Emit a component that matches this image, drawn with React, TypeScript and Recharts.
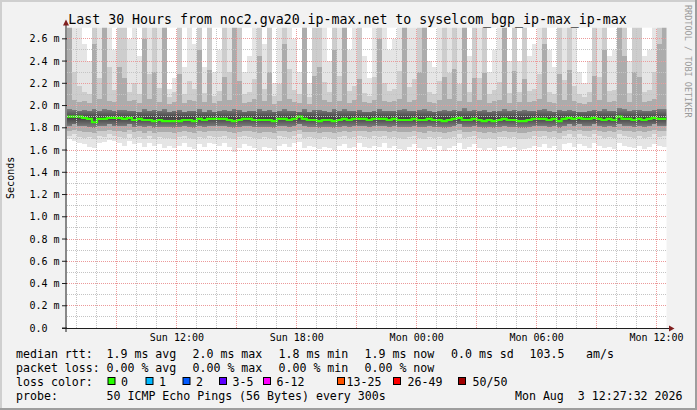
import React from 'react';
import { ComposedChart, Area, Line, XAxis, YAxis, ReferenceLine, CartesianGrid } from 'recharts';

const W = 697;
const H = 410;
const PLOT_LEFT = 67;
const PLOT_RIGHT = 666.5;
const PLOT_TOP = 27.7;
const PLOT_BOTTOM = 328;
const X_AXIS_H = 20;
const Y_AXIS_W = 60;
const MONO = "'DejaVu Sans Mono', monospace";

// time in hours since Sun 00:00, one bin every 15 minutes
const START_H = 6.5;
const STEP_H = 0.25;
const X_DOMAIN: [number, number] = [6.5, 36.5];
const Y_DOMAIN: [number, number] = [0, 2.7];

const X_TICKS = [12, 18, 24, 30, 36];
const X_LABELS = ['Sun 12:00', 'Sun 18:00', 'Mon 00:00', 'Mon 06:00', 'Mon 12:00'];
const Y_TICKS = [0, 0.2, 0.4, 0.6, 0.8, 1.0, 1.2, 1.4, 1.6, 1.8, 2.0, 2.2, 2.4, 2.6];
const Y_LABELS = ['0.0', '0.2 m', '0.4 m', '0.6 m', '0.8 m', '1.0 m', '1.2 m', '1.4 m', '1.6 m', '1.8 m', '2.0 m', '2.2 m', '2.4 m', '2.6 m'];
const MINOR_HOURS = [7, 8, 10, 11, 13, 14, 16, 17, 19, 20, 22, 23, 25, 26, 28, 29, 31, 32, 34, 35];
const MAJOR_HOURS = [9, 12, 15, 18, 21, 24, 27, 30, 33, 36];
const MINOR_Y = [0.1, 0.3, 0.5, 0.7, 0.9, 1.1, 1.3, 1.5, 1.7, 1.9, 2.1, 2.3, 2.5];
const MAJOR_Y = [0.2, 0.4, 0.6, 0.8, 1.0, 1.2, 1.4, 1.6, 1.8, 2.0, 2.2, 2.4, 2.6];

// smoke bands (ms): outermost pair LO/HI ... innermost pair LO4/HI3
const LO = [
  1.70, 1.68, 1.66, 1.65, 1.63, 1.62, 1.66, 1.67, 1.69, 1.68,
  1.66, 1.64, 1.68, 1.65, 1.66, 1.63, 1.66, 1.64, 1.65, 1.62,
  1.64, 1.62, 1.64, 1.66, 1.63, 1.61, 1.65, 1.63, 1.66, 1.65,
  1.64, 1.66, 1.63, 1.58, 1.62, 1.65, 1.64, 1.62, 1.60, 1.63,
  1.62, 1.59, 1.64, 1.65, 1.63, 1.66, 1.67, 1.62, 1.64, 1.63,
  1.61, 1.63, 1.62, 1.60, 1.64, 1.65, 1.62, 1.63, 1.66, 1.63,
  1.62, 1.64, 1.63, 1.66, 1.62, 1.64, 1.61, 1.60, 1.63, 1.65,
  1.62, 1.60, 1.63, 1.61, 1.64, 1.59, 1.62, 1.64, 1.66, 1.61,
  1.63, 1.65, 1.62, 1.60, 1.62, 1.60, 1.63, 1.64, 1.62, 1.63,
  1.60, 1.61, 1.62, 1.64, 1.63, 1.65, 1.62, 1.64, 1.60, 1.65,
  1.66, 1.63, 1.65, 1.64, 1.62, 1.66, 1.64, 1.62, 1.63, 1.61,
  1.66, 1.64, 1.63, 1.62, 1.64, 1.61, 1.63, 1.65, 1.64, 1.63,
];
const LO2 = [
  1.73, 1.74, 1.72, 1.71, 1.72, 1.70, 1.73, 1.72, 1.74, 1.73,
  1.72, 1.71, 1.74, 1.71, 1.72, 1.70, 1.73, 1.70, 1.72, 1.71,
  1.71, 1.70, 1.72, 1.73, 1.71, 1.70, 1.72, 1.71, 1.73, 1.72,
  1.72, 1.73, 1.71, 1.70, 1.72, 1.73, 1.72, 1.71, 1.70, 1.72,
  1.71, 1.70, 1.73, 1.72, 1.71, 1.73, 1.74, 1.71, 1.72, 1.71,
  1.70, 1.72, 1.71, 1.70, 1.72, 1.73, 1.71, 1.72, 1.73, 1.72,
  1.71, 1.73, 1.72, 1.73, 1.71, 1.72, 1.71, 1.70, 1.72, 1.73,
  1.71, 1.70, 1.72, 1.71, 1.72, 1.70, 1.71, 1.72, 1.74, 1.71,
  1.72, 1.73, 1.71, 1.70, 1.71, 1.70, 1.72, 1.72, 1.71, 1.72,
  1.70, 1.70, 1.71, 1.73, 1.72, 1.73, 1.71, 1.72, 1.70, 1.73,
  1.74, 1.72, 1.74, 1.73, 1.72, 1.74, 1.73, 1.71, 1.72, 1.71,
  1.74, 1.73, 1.72, 1.71, 1.73, 1.71, 1.72, 1.74, 1.72, 1.73,
];
const LO3 = [
  1.77, 1.78, 1.77, 1.76, 1.76, 1.75, 1.77, 1.77, 1.78, 1.77,
  1.77, 1.76, 1.78, 1.76, 1.77, 1.75, 1.77, 1.75, 1.76, 1.76,
  1.76, 1.75, 1.76, 1.77, 1.76, 1.75, 1.77, 1.76, 1.77, 1.77,
  1.77, 1.77, 1.76, 1.75, 1.76, 1.77, 1.77, 1.76, 1.75, 1.76,
  1.76, 1.75, 1.77, 1.77, 1.76, 1.77, 1.78, 1.76, 1.76, 1.76,
  1.75, 1.76, 1.76, 1.75, 1.76, 1.77, 1.76, 1.77, 1.77, 1.77,
  1.76, 1.77, 1.77, 1.77, 1.76, 1.77, 1.76, 1.76, 1.76, 1.77,
  1.76, 1.75, 1.77, 1.76, 1.76, 1.75, 1.76, 1.77, 1.78, 1.76,
  1.76, 1.77, 1.76, 1.75, 1.76, 1.75, 1.76, 1.77, 1.76, 1.76,
  1.75, 1.75, 1.76, 1.77, 1.77, 1.77, 1.76, 1.77, 1.75, 1.77,
  1.78, 1.77, 1.78, 1.77, 1.77, 1.78, 1.77, 1.76, 1.77, 1.76,
  1.78, 1.77, 1.77, 1.76, 1.77, 1.76, 1.77, 1.78, 1.77, 1.77,
];
const LO4 = [
  1.82, 1.83, 1.82, 1.82, 1.81, 1.80, 1.82, 1.82, 1.83, 1.82,
  1.82, 1.82, 1.83, 1.81, 1.82, 1.81, 1.82, 1.80, 1.81, 1.81,
  1.81, 1.80, 1.81, 1.82, 1.81, 1.80, 1.82, 1.81, 1.82, 1.82,
  1.82, 1.82, 1.81, 1.80, 1.81, 1.82, 1.82, 1.81, 1.81, 1.81,
  1.81, 1.80, 1.82, 1.82, 1.81, 1.82, 1.83, 1.82, 1.81, 1.81,
  1.80, 1.81, 1.81, 1.80, 1.81, 1.82, 1.81, 1.82, 1.82, 1.82,
  1.81, 1.82, 1.82, 1.82, 1.81, 1.82, 1.81, 1.81, 1.81, 1.82,
  1.81, 1.81, 1.82, 1.81, 1.81, 1.80, 1.81, 1.82, 1.83, 1.81,
  1.81, 1.82, 1.81, 1.80, 1.81, 1.80, 1.81, 1.82, 1.81, 1.81,
  1.80, 1.80, 1.81, 1.82, 1.82, 1.82, 1.81, 1.82, 1.80, 1.82,
  1.83, 1.82, 1.83, 1.82, 1.82, 1.83, 1.82, 1.81, 1.82, 1.81,
  1.83, 1.82, 1.82, 1.81, 1.82, 1.81, 1.82, 1.83, 1.82, 1.82,
];
const MED = [
  1.90, 1.90, 1.90, 1.89, 1.88, 1.85, 1.88, 1.88, 1.89, 1.89,
  1.89, 1.88, 1.89, 1.87, 1.88, 1.87, 1.87, 1.86, 1.87, 1.86,
  1.86, 1.86, 1.86, 1.87, 1.87, 1.86, 1.88, 1.87, 1.88, 1.88,
  1.88, 1.88, 1.87, 1.86, 1.87, 1.88, 1.88, 1.87, 1.87, 1.87,
  1.87, 1.86, 1.88, 1.88, 1.87, 1.88, 1.90, 1.88, 1.87, 1.87,
  1.86, 1.87, 1.87, 1.86, 1.87, 1.88, 1.87, 1.88, 1.88, 1.88,
  1.87, 1.88, 1.88, 1.88, 1.87, 1.88, 1.87, 1.87, 1.87, 1.88,
  1.87, 1.87, 1.88, 1.87, 1.87, 1.86, 1.87, 1.88, 1.89, 1.87,
  1.87, 1.88, 1.87, 1.86, 1.87, 1.86, 1.87, 1.88, 1.87, 1.87,
  1.86, 1.86, 1.87, 1.88, 1.88, 1.88, 1.87, 1.88, 1.86, 1.88,
  1.89, 1.88, 1.89, 1.88, 1.88, 1.89, 1.88, 1.87, 1.88, 1.87,
  1.90, 1.88, 1.88, 1.87, 1.88, 1.87, 1.88, 1.89, 1.88, 1.88,
];
const HI3 = [
  1.97, 1.96, 1.95, 1.96, 1.95, 1.97, 1.95, 1.97, 1.96, 1.95,
  1.96, 1.96, 1.95, 1.95, 1.94, 1.97, 1.95, 1.96, 1.95, 1.97,
  1.94, 1.95, 1.96, 1.94, 1.95, 1.95, 1.97, 1.94, 1.96, 1.94,
  1.95, 1.96, 1.95, 1.97, 1.96, 1.94, 1.95, 1.95, 1.97, 1.95,
  1.96, 1.94, 1.95, 1.97, 1.95, 1.95, 1.94, 1.97, 1.94, 1.96,
  1.96, 1.95, 1.94, 1.97, 1.95, 1.97, 1.95, 1.95, 1.96, 1.94,
  1.94, 1.95, 1.97, 1.95, 1.95, 1.95, 1.96, 1.97, 1.95, 1.95,
  1.96, 1.97, 1.95, 1.94, 1.95, 1.96, 1.95, 1.96, 1.95, 1.98,
  1.95, 1.96, 1.95, 1.96, 1.94, 1.95, 1.95, 1.97, 1.95, 1.96,
  1.95, 1.96, 1.95, 1.95, 1.96, 1.97, 1.95, 1.94, 1.96, 1.95,
  1.96, 1.95, 1.94, 1.94, 1.95, 1.96, 1.95, 1.97, 1.95, 1.95,
  1.98, 1.97, 1.95, 1.96, 1.96, 1.95, 1.95, 1.96, 1.97, 1.97,
];
const HI2 = [
  2.75, 2.05, 2.03, 2.04, 2.02, 2.55, 2.06, 2.75, 2.04, 2.03,
  2.35, 2.25, 2.04, 2.05, 2.02, 2.60, 2.06, 2.30, 2.03, 2.75,
  2.01, 2.03, 2.28, 2.02, 2.05, 2.04, 2.50, 2.03, 2.32, 2.02,
  2.04, 2.26, 2.05, 2.75, 2.22, 2.02, 2.03, 2.06, 2.45, 2.04,
  2.30, 2.01, 2.04, 2.55, 2.06, 2.03, 2.02, 2.75, 2.01, 2.27,
  2.35, 2.05, 2.03, 2.50, 2.04, 2.75, 2.02, 2.05, 2.24, 2.03,
  2.02, 2.05, 2.60, 2.04, 2.03, 2.04, 2.06, 2.75, 2.03, 2.05,
  2.30, 2.75, 2.03, 2.02, 2.05, 2.26, 2.06, 2.33, 2.04, 2.75,
  2.03, 2.25, 2.05, 2.29, 2.02, 2.04, 2.05, 2.75, 2.02, 2.31,
  2.03, 2.24, 2.03, 2.04, 2.06, 2.55, 2.03, 2.02, 2.28, 2.05,
  2.32, 2.04, 2.02, 2.01, 2.03, 2.27, 2.05, 2.50, 2.03, 2.04,
  2.75, 2.45, 2.03, 2.30, 2.26, 2.03, 2.04, 2.06, 2.55, 2.75,
];
const HI1 = [
  2.75, 2.30, 2.18, 2.12, 2.10, 2.75, 2.25, 2.75, 2.35, 2.14,
  2.75, 2.75, 2.12, 2.20, 2.10, 2.75, 2.28, 2.75, 2.16, 2.75,
  2.08, 2.12, 2.75, 2.10, 2.22, 2.15, 2.75, 2.11, 2.75, 2.09,
  2.13, 2.75, 2.30, 2.75, 2.75, 2.10, 2.12, 2.24, 2.75, 2.15,
  2.75, 2.09, 2.19, 2.75, 2.33, 2.14, 2.10, 2.75, 2.08, 2.75,
  2.75, 2.21, 2.12, 2.75, 2.27, 2.75, 2.13, 2.18, 2.75, 2.11,
  2.09, 2.26, 2.75, 2.20, 2.13, 2.15, 2.31, 2.75, 2.17, 2.24,
  2.75, 2.75, 2.12, 2.10, 2.22, 2.75, 2.29, 2.75, 2.19, 2.75,
  2.12, 2.75, 2.25, 2.75, 2.10, 2.14, 2.21, 2.75, 2.11, 2.75,
  2.12, 2.75, 2.13, 2.15, 2.28, 2.75, 2.12, 2.10, 2.75, 2.23,
  2.75, 2.18, 2.10, 2.08, 2.12, 2.75, 2.26, 2.75, 2.13, 2.14,
  2.75, 2.75, 2.11, 2.75, 2.75, 2.12, 2.14, 2.30, 2.75, 2.75,
];
const HI = [
  2.75, 2.75, 2.75, 2.55, 2.40, 2.75, 2.75, 2.75, 2.75, 2.50,
  2.75, 2.75, 2.60, 2.75, 2.45, 2.75, 2.75, 2.75, 2.75, 2.75,
  2.15, 2.25, 2.75, 2.35, 2.75, 2.55, 2.75, 2.35, 2.75, 2.30,
  2.50, 2.75, 2.75, 2.75, 2.75, 2.30, 2.45, 2.75, 2.75, 2.55,
  2.75, 2.20, 2.75, 2.75, 2.75, 2.60, 2.30, 2.75, 2.20, 2.75,
  2.75, 2.75, 2.40, 2.75, 2.75, 2.75, 2.50, 2.75, 2.75, 2.45,
  2.25, 2.75, 2.75, 2.75, 2.50, 2.60, 2.75, 2.75, 2.75, 2.75,
  2.75, 2.75, 2.40, 2.35, 2.75, 2.75, 2.75, 2.75, 2.75, 2.75,
  2.45, 2.75, 2.75, 2.75, 2.30, 2.50, 2.75, 2.75, 2.40, 2.75,
  2.40, 2.75, 2.45, 2.55, 2.75, 2.75, 2.50, 2.35, 2.75, 2.75,
  2.75, 2.75, 2.30, 2.20, 2.40, 2.75, 2.75, 2.75, 2.45, 2.50,
  2.75, 2.75, 2.40, 2.75, 2.75, 2.45, 2.50, 2.75, 2.75, 2.75,
];

// legend
const RTT_TEXT = ['median rtt:', '1.9 ms avg', '2.0 ms max', '1.8 ms min', '1.9 ms now', '0.0 ms sd', '103.5', 'am/s'];
const RTT_X = [16, 106.5, 192.5, 278.5, 364.5, 451, 529.5, 586];
const LOSS_TEXT = ['packet loss:', '0.00 % avg', '0.00 % max', '0.00 % min', '0.00 % now'];
const LOSS_X = [16, 106.5, 192.5, 278.5, 364.5];
const LOSS_LABELS = ['0', '1', '2', '3-5', '6-12', '13-25', '26-49', '50/50'];
const LOSS_COLORS = ['#26ff00', '#00b8ff', '#0059ff', '#5e00ff', '#ff00fe', '#ff5500', '#ff0000', '#a10000'];
const LOSS_BOX_X = [107.5, 145.5, 182.5, 219, 263, 337, 393, 458];
const LOSS_LABEL_X = [121, 159, 196, 232.5, 276.5, 346.5, 407.5, 472.5];

const ROWS = LO.map((_, i) => ({
  t: START_H + i * STEP_H,
  lo: LO[i], lo2: LO2[i], lo3: LO3[i], lo4: LO4[i],
  med: MED[i],
  hi3: HI3[i], hi2: HI2[i], hi1: HI1[i], hi: HI[i],
}));
// closing row so the last step reaches the end of the time range
ROWS.push({ ...ROWS[ROWS.length - 1], t: START_H + LO.length * STEP_H });

const XTick = (props: any) => {
  const { x, y, payload } = props;
  const idx = X_TICKS.findIndex((v) => Math.abs(v - payload.value) < 1e-6);
  return (
    <text x={x} y={y + 13} textAnchor="middle" fontFamily={MONO} fontSize={10} fill="#000">
      {idx >= 0 ? X_LABELS[idx] : ''}
    </text>
  );
};

const YTick = (props: any) => {
  const { x, y, payload } = props;
  const idx = Y_TICKS.findIndex((v) => Math.abs(v - payload.value) < 1e-6);
  return (
    <g>
      <line x1={x - 5} x2={x} y1={y} y2={y} stroke="#1f1f1f" strokeWidth={1} />
      <text x={x - 37.5} y={y + 3.6} textAnchor="start" fontFamily={MONO} fontSize={10} fill="#000">
        {idx >= 0 ? Y_LABELS[idx] : ''}
      </text>
    </g>
  );
};

const smoke = (lowKey: string, highKey: string) => (d: any) => [d[lowKey], d[highKey]];

const textStyle: React.CSSProperties = { whiteSpace: 'pre' };

export default function App() {
  return (
    <div style={{ position: 'relative', width: W, height: H, background: '#f2f2f2', overflow: 'hidden' }}>
      <style>{'body{margin:0}'}</style>
      <div style={{ position: 'absolute', left: 0, top: 0 }}>
        <ComposedChart
          width={W}
          height={H}
          data={ROWS}
          margin={{ top: PLOT_TOP, right: W - PLOT_RIGHT, bottom: H - PLOT_BOTTOM - X_AXIS_H, left: PLOT_LEFT - Y_AXIS_W }}
        >
          <defs>
            <linearGradient id="coreGrad" x1="0" y1="0" x2="0" y2="1">
              <stop offset="0%" stopColor="#000" stopOpacity={0.22} />
              <stop offset="30%" stopColor="#000" stopOpacity={0.45} />
              <stop offset="50%" stopColor="#000" stopOpacity={0.62} />
              <stop offset="72%" stopColor="#000" stopOpacity={0.45} />
              <stop offset="100%" stopColor="#000" stopOpacity={0.22} />
            </linearGradient>
          </defs>
          <CartesianGrid horizontal={false} vertical={false} fill="#ffffff" stroke="none" />
          <XAxis
            type="number"
            dataKey="t"
            domain={X_DOMAIN}
            allowDataOverflow
            ticks={X_TICKS}
            interval={0}
            height={X_AXIS_H}
            axisLine={false}
            tickLine={false}
            tickSize={0}
            tickMargin={0}
            tick={(p: any) => <XTick {...p} />}
          />
          <YAxis
            type="number"
            domain={Y_DOMAIN}
            allowDataOverflow
            ticks={Y_TICKS}
            interval={0}
            width={Y_AXIS_W}
            axisLine={false}
            tickLine={false}
            tickSize={0}
            tickMargin={0}
            tick={(p: any) => <YTick {...p} />}
          />
          <Area type="stepAfter" dataKey={smoke('lo', 'hi')} fill="#000" fillOpacity={0.1} stroke="none" dot={false} activeDot={false} isAnimationActive={false} shapeRendering="crispEdges" />
          <Area type="stepAfter" dataKey={smoke('lo2', 'hi1')} fill="#000" fillOpacity={0.1} stroke="none" dot={false} activeDot={false} isAnimationActive={false} shapeRendering="crispEdges" />
          <Area type="stepAfter" dataKey={smoke('lo3', 'hi2')} fill="#000" fillOpacity={0.16} stroke="none" dot={false} activeDot={false} isAnimationActive={false} shapeRendering="crispEdges" />
          <Area type="stepAfter" dataKey={smoke('lo4', 'hi3')} fill="url(#coreGrad)" fillOpacity={1} stroke="none" dot={false} activeDot={false} isAnimationActive={false} shapeRendering="crispEdges" />
          <Line type="stepAfter" dataKey="med" stroke="#33ff00" strokeWidth={2.2} dot={false} activeDot={false} isAnimationActive={false} />
          {MINOR_HOURS.map((h) => (
            <ReferenceLine key={'mh' + h} x={h} stroke="#c4c4c4" strokeDasharray="1 1" shapeRendering="crispEdges" />
          ))}
          {MINOR_Y.map((v) => (
            <ReferenceLine key={'my' + v} y={v} stroke="#c4c4c4" strokeDasharray="1 1" shapeRendering="crispEdges" />
          ))}
          {MAJOR_HOURS.map((h) => (
            <ReferenceLine key={'Mh' + h} x={h} stroke="#ec9a9a" strokeDasharray="1 1" shapeRendering="crispEdges" />
          ))}
          {MAJOR_Y.map((v) => (
            <ReferenceLine key={'My' + v} y={v} stroke="#ec9a9a" strokeDasharray="1 1" shapeRendering="crispEdges" />
          ))}
        </ComposedChart>
      </div>
      <svg width={W} height={H} style={{ position: 'absolute', left: 0, top: 0, pointerEvents: 'none' }}>
        {/* frame */}
        <rect x={0} y={0} width={W} height={2} fill="#cfcfcf" />
        <rect x={0} y={0} width={2} height={H} fill="#cfcfcf" />
        <rect x={0} y={H - 2} width={W} height={2} fill="#9e9e9e" />
        <rect x={W - 2} y={0} width={2} height={H} fill="#9e9e9e" />
        {/* axes */}
        <line x1={PLOT_LEFT - 1} x2={PLOT_LEFT - 1} y1={25} y2={PLOT_BOTTOM + 4} stroke="#1f1f1f" strokeWidth={1} />
        <line x1={PLOT_LEFT - 5} x2={PLOT_RIGHT + 3} y1={PLOT_BOTTOM + 0.5} y2={PLOT_BOTTOM + 0.5} stroke="#1f1f1f" strokeWidth={1} />
        <polygon points={`${PLOT_LEFT - 1},19.5 ${PLOT_LEFT - 4},25.5 ${PLOT_LEFT + 2},25.5`} fill="#801f1f" />
        <polygon points={`${PLOT_RIGHT + 8},${PLOT_BOTTOM + 0.5} ${PLOT_RIGHT + 2.5},${PLOT_BOTTOM - 2.5} ${PLOT_RIGHT + 2.5},${PLOT_BOTTOM + 3.5}`} fill="#801f1f" />
        {/* title */}
        <text x={347.5} y={23.7} textAnchor="middle" fontFamily={MONO} fontSize={13.25} fill="#000" style={textStyle}>
          Last 30 Hours from noc2.gva20.ip-max.net to syselcom_bgp_ip-max_ip-max
        </text>
        {/* vertical label */}
        <text x={14} y={(PLOT_TOP + PLOT_BOTTOM) / 2} textAnchor="middle" fontFamily={MONO} fontSize={10} fill="#000" transform={`rotate(-90 14 ${(PLOT_TOP + PLOT_BOTTOM) / 2})`}>
          Seconds
        </text>
        {/* watermark */}
        <text x={685} y={5} textAnchor="start" fontFamily={MONO} fontSize={8.5} fill="#9a9a9a" transform="rotate(90 685 5)">
          RRDTOOL / TOBI OETIKER
        </text>
        {/* legend */}
        {RTT_TEXT.map((s, i) => (
          <text key={'r' + i} x={RTT_X[i]} y={357.8} fontFamily={MONO} fontSize={11.6} fill="#000" style={textStyle}>{s}</text>
        ))}
        {LOSS_TEXT.map((s, i) => (
          <text key={'l' + i} x={LOSS_X[i]} y={371.9} fontFamily={MONO} fontSize={11.6} fill="#000" style={textStyle}>{s}</text>
        ))}
        <text x={16} y={385.9} fontFamily={MONO} fontSize={11.6} fill="#000" style={textStyle}>loss color:</text>
        {LOSS_LABELS.map((s, i) => (
          <g key={'c' + i}>
            <rect x={LOSS_BOX_X[i] + 0.5} y={377.5} width={7} height={7} fill={LOSS_COLORS[i]} stroke="#000" strokeWidth={1} />
            <text x={LOSS_LABEL_X[i]} y={385.9} fontFamily={MONO} fontSize={11.6} fill="#000" style={textStyle}>{s}</text>
          </g>
        ))}
        <text x={16} y={400} fontFamily={MONO} fontSize={11.6} fill="#000" style={textStyle}>probe:</text>
        <text x={106.5} y={400} fontFamily={MONO} fontSize={11.6} fill="#000" style={textStyle}>50 ICMP Echo Pings (56 Bytes) every 300s</text>
        <text x={682.5} y={400} textAnchor="end" fontFamily={MONO} fontSize={11.6} fill="#000" style={textStyle}>Mon Aug  3 12:27:32 2026</text>
      </svg>
    </div>
  );
}
